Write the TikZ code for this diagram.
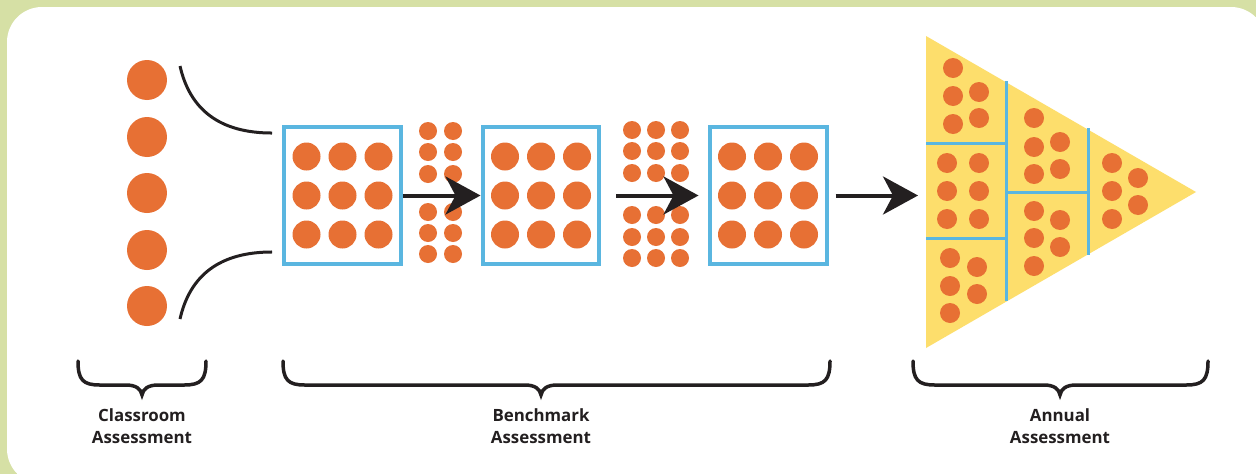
\documentclass[tikz,border=0pt]{standalone}
\usepackage{fontspec}
\newfontfamily\labelfont{Open Sans}
\usetikzlibrary{arrows.meta,positioning,calc}
\definecolor{dotorange}{RGB}{231,112,52}
\definecolor{boxblue}{RGB}{90,182,224}
\definecolor{triyellow}{RGB}{253,222,108}
\definecolor{bggreen}{RGB}{214,224,165}
\definecolor{inkblack}{RGB}{35,31,32}

\tikzset{
  stage/.style={draw=boxblue,line width=0.08cm,minimum width=2.34cm,minimum height=2.74cm,inner sep=0pt},
  flow/.style={inkblack,line width=0.08cm,-{Stealth[length=0.7cm,width=0.76cm,inset=0.2cm]}},
  feed/.style={inkblack,line width=0.06cm},
  brace/.style={inkblack,line width=0.07cm,line cap=round},
  part/.style={boxblue,line width=0.06cm},
  lbl/.style={font=\labelfont\bfseries\fontsize{9.6}{12.5}\selectfont,align=center,text=inkblack,inner sep=0pt,anchor=north}
}
% nine big dots inside a stage box
\newcommand{\ninedots}[1]{%
  \foreach \dx in {-36,0,36}
    \foreach \dy in {-39,0,39}
      \fill[dotorange] ($(#1)+(\dx,\dy)$) circle (0.28cm);}
% curly brace: left x, tip x, right x
\newcommand{\assessbrace}[3]{%
  \draw[brace] (#1,361) .. controls (#1,380) and (#1+5,385) .. (#1+22,385)
    -- (#2-16,385) .. controls (#2-6,385) and (#2-1,389) .. (#2,395)
    .. controls (#2+1,389) and (#2+6,385) .. (#2+16,385)
    -- (#3-22,385) .. controls (#3-5,385) and (#3,380) .. (#3,361);}

\begin{document}
\begin{tikzpicture}[x=0.02cm,y=-0.02cm]
  \useasboundingbox (0,0) rectangle (1256,474);
  \fill[bggreen] (0,0) rectangle (1256,474);
  \fill[white,rounded corners=0.7cm] (7,7) rectangle (1266,484);

  % classroom column
  \foreach \y in {80,137,193,250,306}
    \fill[dotorange] (147,\y) circle (0.4cm);

  % benchmark stages
  \node[stage] (box1) at (342.5,195.5) {};
  \node[stage] (box2) at (541,195.5) {};
  \node[stage] (box3) at (768,195.5) {};
  \ninedots{box1}
  \ninedots{box2}
  \ninedots{box3}

  \coordinate (topfeed) at (180,66);
  \coordinate (botfeed) at (180,319);
  \draw[feed] (topfeed) .. controls (190,110) and (220,133) .. ($(box1.north west)+(-10,8)$);
  \draw[feed] (botfeed) .. controls (190,275) and (220,252) .. ($(box1.south west)+(-10,-14)$);

  \foreach \x in {428,453}
    \foreach \y in {131,152,174,212,233,254}
      \fill[dotorange] (\x,\y) circle (0.18cm);
  \foreach \x in {632,656,680}
    \foreach \y in {130,151,173,215,237,258}
      \fill[dotorange] (\x,\y) circle (0.18cm);

  % annual triangle
  \fill[triyellow] (926,36) -- (926,348) -- (1196,192) -- cycle;
  \coordinate (triwest) at (926,195.5);
  \draw[part] (1006,81) -- (1006,301);
  \draw[part] (1088,128) -- (1088,255);
  \draw[part] (926,143) -- (1006,143);
  \draw[part] (926,238) -- (1006,238);
  \draw[part] (1006,192) -- (1088,192);
  \foreach \p in {(953,68),(953,96),(979,92),(953,124),(979,118),
                  (947,163),(979,163),(947,191),(979,191),(947,219),(979,219),
                  (950,258),(977,267),(950,286),(977,294),(950,313),
                  (1034,118),(1034,147),(1060,142),(1034,174),(1060,169),
                  (1034,211),(1060,220),(1034,238),(1060,247),(1034,266),
                  (1112,163),(1112,191),(1112,219),(1138,178),(1138,205)}
    \fill[dotorange] \p circle (0.2cm);

  % arrows
  \draw[flow] (box1.east) -- (box2.west);
  \draw[flow,shorten <=0.3cm,shorten >=0.18cm] (box2.east) -- (box3.west);
  \draw[flow,shorten <=0.14cm,shorten >=0.16cm] (box3.east) -- (triwest);

  % braces and labels
  \assessbrace{78}{142}{206}
  \assessbrace{283}{541}{830}
  \assessbrace{913}{1060}{1208}
  \node[lbl] (classlbl) at (142,408) {Classroom\\Assessment};
  \node[lbl] (benchlbl) at (541,408) {Benchmark\\Assessment};
  \node[lbl] (annuallbl) at (1060,408) {Annual\\Assessment};
\end{tikzpicture}
\end{document}
